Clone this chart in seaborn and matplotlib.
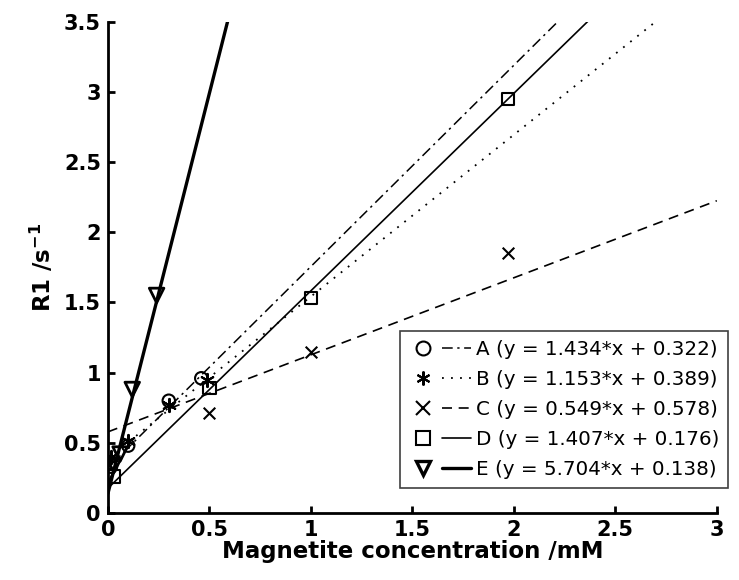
import matplotlib
matplotlib.use("Agg")
import matplotlib.pyplot as plt
import seaborn as sns
import numpy as np
import pandas as pd
from matplotlib.lines import Line2D
from matplotlib.legend_handler import HandlerTuple
from matplotlib.ticker import FuncFormatter

# ---- data ----
series_names = ["A", "B", "C", "D", "E"]
slopes = [1.434, 1.153, 0.549, 1.407, 5.704]
intercepts = [0.322, 0.389, 0.578, 0.176, 0.138]

a_x = [0.015, 0.1, 0.3, 0.46]
a_y = [0.33, 0.48, 0.80, 0.96]
b_x = [0.015, 0.1, 0.3, 0.49]
b_y = [0.40, 0.51, 0.77, 0.95]
c_x = [0.5, 1.0, 1.97]
c_y = [0.71, 1.15, 1.85]
d_x = [0.03, 0.5, 1.0, 1.97]
d_y = [0.26, 0.89, 1.53, 2.95]
e_x = [0.0, 0.03, 0.06, 0.12, 0.24]
e_y = [0.26, 0.34, 0.42, 0.88, 1.55]

x_ticks = [0, 0.5, 1, 1.5, 2, 2.5, 3]
y_ticks = [0, 0.5, 1, 1.5, 2, 2.5, 3, 3.5]
line_x = [0, 3]

sns.set_style("ticks")
plt.rcParams["font.family"] = ["DejaVu Sans"]
plt.rcParams["mathtext.fontset"] = "dejavusans"
for k in ["text.color", "axes.labelcolor", "xtick.color", "ytick.color",
          "axes.edgecolor", "legend.labelcolor"]:
    plt.rcParams[k] = "black"

fig = plt.figure(figsize=(7.39, 5.80), dpi=100)
ax = fig.add_axes([0.146, 0.1155, 0.824, 0.847])

points = [(a_x, a_y), (b_x, b_y), (c_x, c_y), (d_x, d_y), (e_x, e_y)]
markers = ["o", (6, 2, 0), "x", "s", "v"]
msizes = [80, 90, 70, 80, 110]
line_styles = [(0, (7, 3, 1.5, 3)), (0, (1, 4)), (0, (6, 4)), "-", "-"]
line_widths = [1.1, 1.3, 1.2, 1.2, 2.4]

handles = []
for i, name in enumerate(series_names):
    m, b = slopes[i], intercepts[i]
    ly = [m * xx + b for xx in line_x]
    sns.lineplot(x=line_x, y=ly, ax=ax, color="black",
                 linestyle=line_styles[i], linewidth=line_widths[i])
    px, py = points[i]
    mk = markers[i]
    filled = mk in ("o", "s", "v")
    if filled:
        sns.scatterplot(x=px, y=py, ax=ax, marker=mk, s=msizes[i],
                        facecolor="none", edgecolor="black",
                        linewidth=2.0 if mk == "v" else 1.5, zorder=5)
    else:
        sns.scatterplot(x=px, y=py, ax=ax, marker=mk, s=msizes[i],
                        color="black", linewidth=1.5, zorder=5)
    h_marker = Line2D([], [], marker=mk, linestyle="none", color="black",
                      markerfacecolor="none", markersize=10,
                      markeredgewidth=2.4 if mk == "v" else 1.5)
    h_line = Line2D([], [], linestyle=line_styles[i], color="black",
                    linewidth=line_widths[i])
    handles.append((h_marker, h_line))

labels = [f"{n} (y = {s:.3f}*x + {c:.3f})" for n, s, c in
          zip(series_names, slopes, intercepts)]

ax.set_xlim(0, 3)
ax.set_ylim(0, 3.5)
ax.set_xticks(x_ticks)
ax.set_yticks(y_ticks)
fmt = FuncFormatter(lambda v, p: f"{v:g}")
ax.xaxis.set_major_formatter(fmt)
ax.yaxis.set_major_formatter(fmt)
ax.tick_params(direction="in", length=5, width=2, labelsize=15, pad=5,
               colors="black")
for lab in ax.get_xticklabels() + ax.get_yticklabels():
    lab.set_fontweight("bold")
for sp in ["top", "right"]:
    ax.spines[sp].set_visible(False)
for sp in ["left", "bottom"]:
    ax.spines[sp].set_linewidth(2)
    ax.spines[sp].set_color("black")

ax.set_xlabel("Magnetite concentration /mM", fontsize=16.5, fontweight="bold",
              labelpad=0, color="black")
ax.set_ylabel("R1 /s$^{\\mathbf{-1}}$", fontsize=16.5, fontweight="bold",
              labelpad=6, color="black")

leg = ax.legend(handles, labels, handler_map={tuple: HandlerTuple(ndivide=None, pad=0.2)},
                loc="lower right", bbox_to_anchor=(0.985, 0.159),
                bbox_transform=fig.transFigure, fontsize=14.3, frameon=True,
                fancybox=False, handlelength=3.1, handletextpad=0.25,
                labelspacing=0.55, borderpad=0.45, borderaxespad=0)
leg.get_frame().set_edgecolor("#404040")
leg.get_frame().set_linewidth(1.2)
leg.get_frame().set_alpha(1)
for t in leg.get_texts():
    t.set_color("black")

fig.savefig("out.png", dpi=100)
